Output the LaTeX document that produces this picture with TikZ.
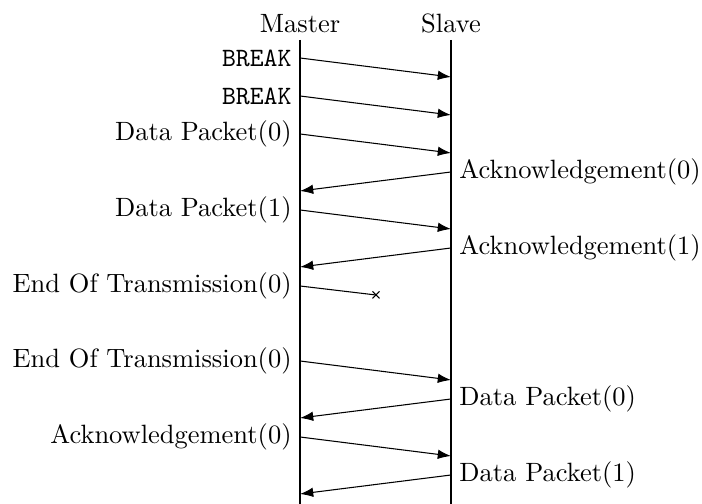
\documentclass[tikz,border=0pt]{standalone}
\usetikzlibrary{arrows.meta}
\begin{document}
\begin{tikzpicture}[x=0.3778pt,y=-0.3778pt,
  msg/.style={-{Latex[length=5pt,width=3.6pt]}},
  lbl/.style={inner sep=3pt},
  life/.style={line width=0.5pt}]
\useasboundingbox (0,0) rectangle (702,504);
% lifelines
\coordinate (mtop) at (300,40);
\coordinate (mbot) at (300,510);
\coordinate (stop) at (451,40);
\coordinate (sbot) at (451,510);
\node[above,lbl,inner sep=2.5pt] (master) at (mtop) {Master};
\node[above,lbl,inner sep=2.5pt] (slave) at (stop) {Slave};
\draw[life] (mtop) -- (mbot);
\draw[life] (stop) -- (sbot);
% message points
\coordinate (a1) at (300,58);  \coordinate (b1) at (451,77);
\coordinate (a2) at (300,96);  \coordinate (b2) at (451,115);
\coordinate (a3) at (300,134); \coordinate (b3) at (451,153);
\coordinate (b4) at (451,172); \coordinate (a4) at (300,191);
\coordinate (a5) at (300,210); \coordinate (b5) at (451,229);
\coordinate (b6) at (451,248); \coordinate (a6) at (300,267);
\coordinate (a7) at (300,286); \coordinate (x7) at (376,295);
\coordinate (a8) at (300,361); \coordinate (b8) at (451,380);
\coordinate (b9) at (451,399); \coordinate (a9) at (300,418);
\coordinate (a10) at (300,437); \coordinate (b10) at (451,456);
\coordinate (b11) at (451,475); \coordinate (a11) at (300,494);
% labels
\node[left,lbl] (l1) at (a1) {\texttt{BREAK}};
\node[left,lbl] (l2) at (a2) {\texttt{BREAK}};
\node[left,lbl] (l3) at (a3) {Data Packet(0)};
\node[right,lbl] (l4) at (b4) {Acknowledgement(0)};
\node[left,lbl] (l5) at (a5) {Data Packet(1)};
\node[right,lbl] (l6) at (b6) {Acknowledgement(1)};
\node[left,lbl] (l7) at (a7) {End Of Transmission(0)};
\node[left,lbl] (l8) at (a8) {End Of Transmission(0)};
\node[right,lbl] (l9) at (b9) {Data Packet(0)};
\node[left,lbl] (l10) at (a10) {Acknowledgement(0)};
\node[right,lbl] (l11) at (b11) {Data Packet(1)};
% messages
\draw[msg] (a1) -- (b1);
\draw[msg] (a2) -- (b2);
\draw[msg] (a3) -- (b3);
\draw[msg] (b4) -- (a4);
\draw[msg] (a5) -- (b5);
\draw[msg] (b6) -- (a6);
\draw (a7) -- (x7);
\draw ([shift={(-3.5,-3.5)}]x7) -- ([shift={(3.5,3.5)}]x7);
\draw ([shift={(-3.5,3.5)}]x7) -- ([shift={(3.5,-3.5)}]x7);
\draw[msg] (a8) -- (b8);
\draw[msg] (b9) -- (a9);
\draw[msg] (a10) -- (b10);
\draw[msg] (b11) -- (a11);
\end{tikzpicture}
\end{document}
